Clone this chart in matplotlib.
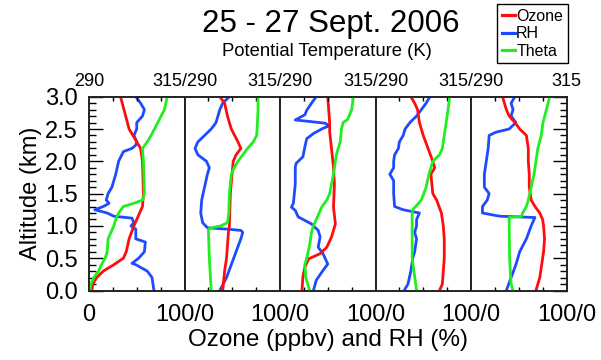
import matplotlib
matplotlib.use("Agg")
import matplotlib.pyplot as plt
from matplotlib.lines import Line2D
from matplotlib.ticker import MultipleLocator, FixedLocator

plt.rcParams['font.family'] = ['Liberation Sans', 'DejaVu Sans']

# altitude (km) / value pairs for the five soundings
ozone_alt = [
    [3.0, 2.5, 2.3, 2.2, 2.0, 1.5, 1.3, 1.1, 1.0, 0.8, 0.6, 0.5, 0.4, 0.3, 0.2, 0.1, 0.0],
    [3.0, 2.9, 2.7, 2.5, 2.3, 2.2, 2.1, 2.0, 1.5, 1.0, 0.9, 0.5, 0.3, 0.0],
    [3.0, 2.6, 2.46, 1.91, 1.65, 1.29, 1.03, 0.83, 0.67, 0.57, 0.49, 0.36, 0.21, 0.0],
    [3.0, 2.9, 2.8, 2.6, 2.4, 2.2, 2.0, 1.9, 1.8, 1.5, 1.4, 1.2, 1.1, 1.0, 0.8, 0.5, 0.3, 0.1, 0.0],
    [3.0, 2.9, 2.8, 2.7, 2.6, 2.5, 2.4, 2.2, 2.0, 1.8, 1.6, 1.5, 1.4, 1.3, 1.2, 1.1, 1.0, 0.8, 0.6,
     0.4, 0.2, 0.0],
]
ozone_ppbv = [
    [33, 42, 50, 54, 56, 57, 56, 50, 47, 42, 39, 36, 26, 15, 8, 4, 3],
    [37, 42, 45, 49, 56, 59, 54, 51, 48, 47, 46, 44, 42, 40],
    [50, 52, 52, 56, 57, 56, 58, 54, 49, 42, 30, 26, 24, 23],
    [37, 41, 44, 46, 50, 55, 60, 62, 58, 60, 64, 69, 70, 71, 72, 72, 71, 70, 67],
    [33, 35, 37, 40, 46, 51, 58, 60, 60, 61, 61, 62, 63, 67, 72, 75, 76, 77, 76, 74, 72, 68],
]

rh_alt = [
    [3.0, 2.9, 2.8, 2.7, 2.6, 2.5, 2.4, 2.3, 2.25, 2.2, 2.15, 2.0, 1.8, 1.6, 1.5, 1.4, 1.35, 1.3,
     1.25, 1.2, 1.15, 1.12, 1.05, 1.0, 0.95, 0.9, 0.8, 0.75, 0.6, 0.5, 0.42, 0.4, 0.3, 0.2, 0.1, 0.0],
    [3.0, 2.9, 2.8, 2.6, 2.5, 2.4, 2.3, 2.2, 2.1, 2.0, 1.9, 1.8, 1.6, 1.4, 1.2, 1.05, 0.97, 0.95,
     0.93, 0.9, 0.8, 0.6, 0.4, 0.2, 0.0],
    [3.0, 2.9, 2.79, 2.72, 2.64, 2.61, 2.59, 2.55, 2.51, 2.43, 2.35, 2.22, 2.07, 1.97, 1.91, 1.65,
     1.35, 1.29, 1.24, 1.14, 1.03, 0.93, 0.83, 0.67, 0.57, 0.41, 0.31, 0.16, 0.0],
    [3.0, 2.9, 2.8, 2.7, 2.6, 2.5, 2.4, 2.3, 2.2, 2.1, 2.0, 1.9, 1.8, 1.7, 1.6, 1.5, 1.3, 1.25,
     1.22, 1.2, 1.1, 1.0, 0.9, 0.8, 0.6, 0.5, 0.3, 0.1, 0.0],
    [3.0, 2.9, 2.8, 2.7, 2.6, 2.5, 2.45, 2.4, 2.2, 2.0, 1.8, 1.6, 1.5, 1.4, 1.3, 1.2, 1.15, 1.14,
     1.13, 1.1, 1.0, 0.8, 0.6, 0.4, 0.2, 0.0],
]
rh_pct = [
    [49, 54, 58, 56, 50, 50, 47, 50, 49, 45, 36, 31, 28, 24, 20, 18, 21, 15, 6, 19, 26, 45, 47, 44,
     49, 49, 49, 59, 58, 52, 45, 49, 61, 66, 67, 68],
    [47, 40, 37, 33, 28, 21, 14, 11, 14, 23, 26, 24, 21, 18, 17, 19, 24, 45, 59, 61, 59, 54, 49, 44, 37],
    [38, 33, 28, 26, 16, 35, 47, 52, 45, 35, 28, 26, 24, 17, 16, 16, 14, 12, 16, 19, 33, 40, 42, 40,
     45, 50, 45, 38, 35],
    [57, 53, 48, 43, 36, 31, 29, 25, 24, 20, 19, 19, 15, 19, 19, 19, 20, 29, 39, 46, 43, 43, 41, 43,
     41, 39, 37, 34, 30],
    [46, 42, 44, 42, 47, 40, 26, 19, 18, 16, 14, 14, 19, 17, 12, 12, 30, 49, 67, 66, 63, 58, 51, 47, 42, 37],
]

theta_alt = [
    [3.0, 2.8, 2.6, 2.4, 2.3, 2.2, 2.0, 1.5, 1.4, 1.35, 1.3, 1.2, 1.1, 1.0, 0.8, 0.6, 0.5, 0.4, 0.3,
     0.2, 0.1, 0.0],
    [3.0, 2.8, 2.6, 2.4, 2.3, 2.2, 2.1, 2.0, 1.9, 1.8, 1.5, 1.2, 1.05, 1.0, 0.97, 0.95, 0.5, 0.0],
    [3.0, 2.8, 2.65, 2.6, 2.5, 2.3, 2.1, 1.8, 1.5, 1.4, 1.3, 1.1, 1.0, 0.9, 0.7, 0.5, 0.4, 0.2, 0.1, 0.0],
    [3.0, 2.8, 2.6, 2.4, 2.2, 2.1, 2.0, 1.8, 1.6, 1.4, 1.25, 1.2, 0.5, 0.0],
    [3.0, 2.8, 2.6, 2.4, 2.2, 2.0, 1.8, 1.6, 1.4, 1.3, 1.2, 1.15, 1.13, 1.0, 0.5, 0.1, 0.0],
]
theta_K = [
    [310.5, 309.75, 308.0, 306.25, 305.25, 304.0, 304.25, 304.5, 304.0, 301.75, 299.0, 297.75,
     297.0, 296.5, 295.0, 294.75, 294.25, 293.25, 292.5, 291.25, 290.5, 290.25],
    [309.25, 309.25, 309.1, 308.9, 308.0, 306.5, 305.25, 304.0, 303.0, 302.25, 301.75, 301.6,
     301.25, 299.5, 297.0, 296.25, 296.5, 297.0],
    [309.25, 308.75, 307.75, 306.5, 306.1, 305.75, 304.75, 304.0, 303.0, 302.25, 301.0, 299.5,
     298.75, 298.25, 297.75, 297.0, 296.5, 296.75, 297.25, 297.75],
    [309.4, 309.0, 308.5, 308.0, 307.5, 306.75, 305.0, 304.0, 303.25, 302.0, 299.75, 299.6, 299.6, 300.75],
    [310.6, 309.75, 308.85, 308.4, 307.5, 307.0, 306.5, 305.75, 305.0, 304.5, 303.5, 303.25, 300.0,
     300.0, 300.1, 300.5, 301.0],
]

red, blue, green = '#ff0d0d', '#1f4bff', '#1fee1f'
lw = 2.0

fig = plt.figure(figsize=(6.01, 3.6), dpi=100)
left, right, bottom, top = 89 / 601, 566.5 / 601, 1 - 290.5 / 360, 1 - 96.7 / 360
w = (right - left) / 5

for i in range(5):
    ax = fig.add_axes([left + i * w, bottom, w, top - bottom])
    ax.plot(ozone_ppbv[i], ozone_alt[i], color=red, lw=lw, zorder=3)
    ax.plot(rh_pct[i], rh_alt[i], color=blue, lw=lw, zorder=2)
    ax.set_xlim(0, 100)
    ax.set_ylim(0, 3.0)

    ax.xaxis.set_major_locator(FixedLocator([0, 100]))
    ax.set_xticklabels(["0" if i == 0 else "", "100/0"])
    ax.xaxis.set_minor_locator(FixedLocator([25, 50, 75]))
    ax.tick_params(axis='x', which='major', length=0, pad=10, labelsize=17)
    ax.tick_params(axis='x', which='minor', direction='in', length=3, width=1)

    ax.yaxis.set_major_locator(MultipleLocator(0.5))
    ax.yaxis.set_minor_locator(MultipleLocator(0.1))
    ax.yaxis.set_major_formatter(plt.FormatStrFormatter('%.1f'))
    if i == 0:
        ax.tick_params(axis='y', which='major', direction='in', length=10, width=1, pad=8, labelsize=17)
        ax.tick_params(axis='y', which='minor', direction='in', length=5, width=1)
        ax.set_ylabel("Altitude (km)", fontsize=17, labelpad=2)
    elif i == 4:
        ax.tick_params(axis='y', which='both', left=False, labelleft=False, right=True,
                       direction='in', width=1)
        ax.tick_params(axis='y', which='major', length=10)
        ax.tick_params(axis='y', which='minor', length=5)
    else:
        ax.tick_params(axis='y', which='both', left=False, labelleft=False)

    for s in ax.spines.values():
        s.set_linewidth(1.2)
        s.set_color('#222222')

    axt = ax.twiny()
    axt.plot(theta_K[i], theta_alt[i], color=green, lw=lw)
    axt.set_xlim(290, 315)
    axt.set_ylim(0, 3.0)
    axt.xaxis.set_major_locator(FixedLocator([290, 315]))
    axt.set_xticklabels(["290" if i == 0 else "", "315" if i == 4 else "315/290"])
    axt.xaxis.set_minor_locator(FixedLocator([296.25, 302.5, 308.75]))
    axt.tick_params(axis='x', which='major', length=0, pad=5, labelsize=13)
    axt.tick_params(axis='x', which='minor', direction='in', length=3, width=1)
    for s in axt.spines.values():
        s.set_linewidth(1.2)
        s.set_color('#222222')

fig.text((left + right) / 2, 1 - 340 / 360, "Ozone (ppbv) and RH (%)", ha='center', va='center',
         fontsize=17.5)
fig.text(331 / 601, 1 - 24 / 360, "25 - 27 Sept. 2006", ha='center', va='center', fontsize=22.5)
fig.text(327 / 601, 1 - 51 / 360, "Potential Temperature (K)", ha='center', va='center', fontsize=13.3)

handles = [Line2D([], [], color=c, lw=2.3) for c in (red, blue, green)]
leg = fig.legend(handles, ["Ozone", "RH", "Theta"], loc='upper left',
                 bbox_to_anchor=(497 / 601, 1 - 4 / 360), borderaxespad=0, fontsize=11.5,
                 handlelength=0.8, handletextpad=0.1, labelspacing=0.15, borderpad=0.3,
                 fancybox=False, framealpha=1, edgecolor='black')
leg.get_frame().set_linewidth(1.0)

fig.savefig("out.png", dpi=100)
